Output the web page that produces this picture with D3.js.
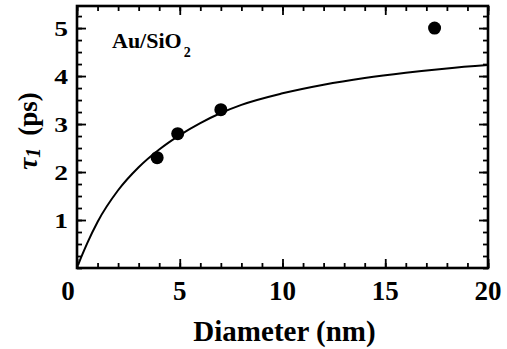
<!DOCTYPE html>
<html><head><meta charset="utf-8">
<script src="https://cdn.jsdelivr.net/npm/d3@7"></script>
<style>body{margin:0;background:#fff}svg{display:block}</style>
</head><body>
<script>
const xTicks = [0, 5, 10, 15, 20];
const yTicks = [1, 2, 3, 4, 5];
const pointD = [3.9, 4.9, 7.0, 17.4];
const pointTau = [2.3, 2.8, 3.3, 5.0];
const curveD = [0.05, 0.2, 0.5, 1, 2, 3, 4, 5, 6, 7, 8, 10, 12, 14, 16, 18, 20];
const curveTau = [0.06, 0.22, 0.52, 0.96, 1.62, 2.10, 2.47, 2.77, 3.02, 3.23, 3.40, 3.64, 3.82, 3.96, 4.07, 4.16, 4.23];
const annotation = "Au/SiO";

const W = 507, H = 349;
const m = {l: 77, r: 19, t: 6, b: 81};
const svg = d3.select("body").append("svg").attr("width", W).attr("height", H);
const x = d3.scaleLinear().domain([0, 20]).range([m.l, W - m.r]);
const y = d3.scaleLinear().domain([0, 5.46]).range([H - m.b, m.t]);
const font = "'Liberation Serif','Times New Roman',serif";

const xMinor = d3.range(0, 20.01, 1);
const yMinor = d3.range(0, 5.46, 0.25);

function tickAxis(axisFn, scale, values, size) {
  return axisFn(scale).tickValues(values).tickSize(size).tickFormat("");
}
// bottom
svg.append("g").attr("transform", `translate(0,${y(0)})`)
  .call(tickAxis(d3.axisTop, x, xMinor, 5));
svg.append("g").attr("transform", `translate(0,${y(0)})`)
  .call(tickAxis(d3.axisTop, x, xTicks, 9));
// top
svg.append("g").attr("transform", `translate(0,${m.t})`)
  .call(tickAxis(d3.axisBottom, x, xMinor, 5));
svg.append("g").attr("transform", `translate(0,${m.t})`)
  .call(tickAxis(d3.axisBottom, x, xTicks, 9));
// left
svg.append("g").attr("transform", `translate(${x(0)},0)`)
  .call(tickAxis(d3.axisRight, y, yMinor, 5));
svg.append("g").attr("transform", `translate(${x(0)},0)`)
  .call(tickAxis(d3.axisRight, y, yTicks, 9));
// right
svg.append("g").attr("transform", `translate(${x(20)},0)`)
  .call(tickAxis(d3.axisLeft, y, yMinor, 5));
svg.append("g").attr("transform", `translate(${x(20)},0)`)
  .call(tickAxis(d3.axisLeft, y, yTicks, 9));

svg.selectAll(".domain").remove();
svg.selectAll(".tick line").attr("stroke", "#000").attr("stroke-width", 1.8);

// frame
svg.append("rect").attr("x", x(0)).attr("y", y(5.46))
  .attr("width", x(20) - x(0)).attr("height", y(0) - y(5.46))
  .attr("fill", "none").attr("stroke", "#000").attr("stroke-width", 2.6);

// tick labels
svg.append("g").selectAll("text").data(xTicks).join("text")
  .attr("x", d => x(d) + (d === 0 ? -9 : 0)).attr("y", 300)
  .attr("text-anchor", "middle")
  .attr("font-family", font).attr("font-weight", "bold").attr("font-size", 27)
  .text(d => d);
svg.append("g").selectAll("text").data(yTicks).join("text")
  .attr("transform", d => `translate(68,${y(d) + 8}) scale(1.25,1)`)
  .attr("text-anchor", "end")
  .attr("font-family", font).attr("font-weight", "bold").attr("font-size", 22)
  .text(d => d);

// axis titles
svg.append("text").attr("x", (x(0) + x(20)) / 2 + 2).attr("y", 341)
  .attr("text-anchor", "middle")
  .attr("font-family", font).attr("font-weight", "bold").attr("font-size", 29)
  .text("Diameter (nm)");
const yt = svg.append("text").attr("transform", "translate(37,131) rotate(-90)")
  .attr("text-anchor", "middle")
  .attr("font-family", font).attr("font-weight", "bold").attr("font-size", 27);
yt.append("tspan").attr("font-style", "italic").text("τ");
yt.append("tspan").attr("font-style", "italic").attr("font-size", 20).attr("dy", 3).text("1");
yt.append("tspan").attr("dy", -3).text("\u2009 (ps)");

// annotation
const an = svg.append("text").attr("x", 112).attr("y", 48)
  .attr("font-family", font).attr("font-weight", "bold").attr("font-size", 22);
an.append("tspan").text(annotation);
an.append("tspan").attr("font-size", 14).attr("dx", 2).attr("dy", 9).text("2");

// curve
const curve = curveD.map((d, i) => [d, curveTau[i]]);
svg.append("path").datum(curve)
  .attr("d", d3.line().x(d => x(d[0])).y(d => y(d[1])).curve(d3.curveMonotoneX))
  .attr("fill", "none").attr("stroke", "#000").attr("stroke-width", 2);

// points
svg.append("g").selectAll("circle").data(pointD.map((d, i) => [d, pointTau[i]])).join("circle")
  .attr("cx", d => x(d[0])).attr("cy", d => y(d[1])).attr("r", 6.5).attr("fill", "#000");
</script>
</body></html>
